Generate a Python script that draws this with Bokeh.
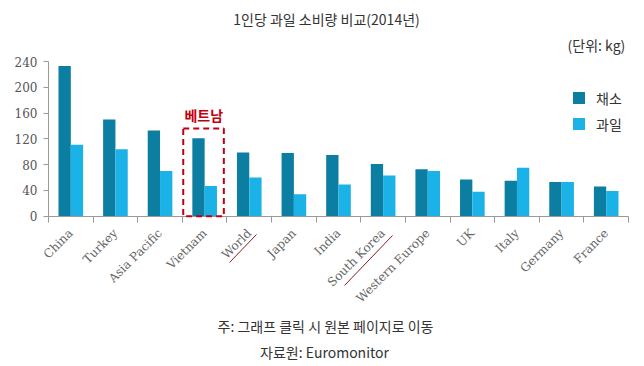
import numpy as np
from bokeh.plotting import figure
from bokeh.models import (ColumnDataSource, FixedTicker, Label, BoxAnnotation,
                          Arrow, Legend, LegendItem, Range1d)
from bokeh.transform import dodge
from bokeh.embed import file_html
from bokeh.resources import INLINE

countries = ["China", "Turkey", "Asia Pacific", "Vietnam", "World", "Japan", "India",
             "South Korea", "Western Europe", "UK", "Italy", "Germany", "France"]
vegetables = [233, 150, 133, 121, 99, 98, 95, 81, 73, 57, 55, 53, 46]
fruits = [111, 104, 70, 47, 60, 34, 49, 63, 70, 38, 75, 53, 39]
y_ticks = [0, 40, 80, 120, 160, 200, 240]

DARK = "#0C7EA2"
LIGHT = "#1BB2E8"
RED = "#C0000F"
KR = "Noto Sans CJK KR"
SERIF = "DejaVu Serif"

W, H = 636, 362
n = len(countries)
AX_LEFT, AX_RIGHT = 48.0, 628.0          # canvas px of the category axis ends
PX_PER_CAT = (AX_RIGHT - AX_LEFT) / n
PX_PER_UNIT = 154.7 / 240.0
ZERO_Y = 215.7                            # canvas px of value 0

xs = np.arange(n) + 0.5
src = ColumnDataSource(dict(x=xs, veg=vegetables, fruit=fruits))

p = figure(width=W, height=H, output_backend="svg", toolbar_location=None,
           x_range=Range1d(-AX_LEFT / PX_PER_CAT, n + (W - AX_RIGHT) / PX_PER_CAT),
           y_range=Range1d(-(H - ZERO_Y) / PX_PER_UNIT, ZERO_Y / PX_PER_UNIT),
           min_border_left=0, min_border_right=0, min_border_top=0,
           min_border_bottom=0)
p.outline_line_color = None
p.xgrid.grid_line_color = None
p.ygrid.grid_line_color = None
p.background_fill_color = "white"

r1 = p.vbar(x=dodge("x", -0.138, range=p.x_range), top="veg", width=0.276, source=src,
            fill_color=DARK, line_color=None)
r2 = p.vbar(x=dodge("x", 0.138, range=p.x_range), top="fruit", width=0.276, source=src,
            fill_color=LIGHT, line_color=None)

# x axis drawn at value 0 inside the frame
xa = p.xaxis[0]
xa.fixed_location = 0
xa.bounds = (0, n)
xa.ticker = FixedTicker(ticks=list(xs), minor_ticks=list(range(n + 1)))
xa.major_label_overrides = {float(x): c for x, c in zip(xs, countries)}
xa.major_tick_line_color = None
xa.minor_tick_line_color = "#999999"
xa.minor_tick_out = 6
xa.minor_tick_in = 0
xa.axis_line_color = "#999999"
xa.major_label_orientation = np.pi / 4
xa.major_label_text_font = SERIF
xa.major_label_text_font_size = "12px"
xa.major_label_text_color = "#666666"
xa.major_label_standoff = 9

# y axis drawn at the first category edge
ya = p.yaxis[0]
ya.fixed_location = 0
ya.bounds = (0, 240)
ya.ticker = FixedTicker(ticks=y_ticks)
ya.axis_line_color = "#999999"
ya.major_tick_line_color = "#999999"
ya.major_tick_out = 5
ya.major_tick_in = 0
ya.minor_tick_line_color = None
ya.major_label_text_font = SERIF
ya.major_label_text_font_size = "12px"
ya.major_label_text_color = "#555555"
ya.major_label_standoff = 6

# legend (frame-relative px)
legend = Legend(items=[LegendItem(label="채소", renderers=[r1]),
                       LegendItem(label="과일", renderers=[r2])],
                location=(571, H - 215.7 + 82), orientation="vertical")
legend.padding = 0
legend.margin = 0
legend.spacing = 6
legend.glyph_width = 15
legend.glyph_height = 15
legend.label_height = 15
legend.label_standoff = 10
legend.label_text_font = KR
legend.label_text_font_size = "14px"
legend.label_text_color = "#333333"
legend.border_line_color = None
legend.background_fill_alpha = 0
p.add_layout(legend, "center")

# Vietnam highlight
box = BoxAnnotation(left=3.02, right=3.93, bottom=0, top=136, fill_alpha=0,
                    line_color=RED, line_alpha=1, line_width=2, line_dash="6 4")
p.add_layout(box)
p.add_layout(Label(x=3.48, y=142, text="베트남", text_align="center",
                   text_baseline="bottom", text_font=KR, text_font_style="bold",
                   text_font_size="14px", text_color=RED))

# underlines for World and South Korea (frame-relative screen px)
p.add_layout(Arrow(end=None, x_start=229, y_start=H - 262, x_end=256, y_end=H - 234,
                   start_units="screen", end_units="screen",
                   line_color="#8B1A1A", line_width=1))
p.add_layout(Arrow(end=None, x_start=344, y_start=H - 285, x_end=392, y_end=H - 235,
                   start_units="screen", end_units="screen",
                   line_color="#8B1A1A", line_width=1))

# titles and notes (frame-relative screen px)
p.add_layout(Label(x=326, y=H - 18, x_units="screen", y_units="screen",
                   text="1인당 과일 소비량 비교(2014년)", text_align="center",
                   text_baseline="middle", text_font=KR, text_font_size="14px",
                   text_color="#333333"))
p.add_layout(Label(x=625, y=H - 44, x_units="screen", y_units="screen",
                   text="(단위: kg)", text_align="right", text_baseline="middle",
                   text_font=KR, text_font_size="14px", text_color="#333333"))
p.add_layout(Label(x=325, y=H - 325, x_units="screen", y_units="screen",
                   text="주: 그래프 클릭 시 원본 페이지로 이동", text_align="center",
                   text_baseline="middle", text_font=KR, text_font_size="14px",
                   text_color="#333333"))
p.add_layout(Label(x=324, y=H - 351, x_units="screen", y_units="screen",
                   text="자료원: Euromonitor", text_align="center",
                   text_baseline="middle", text_font=KR, text_font_size="14px",
                   text_color="#333333"))

open("out.html", "w").write(file_html(p, INLINE))
